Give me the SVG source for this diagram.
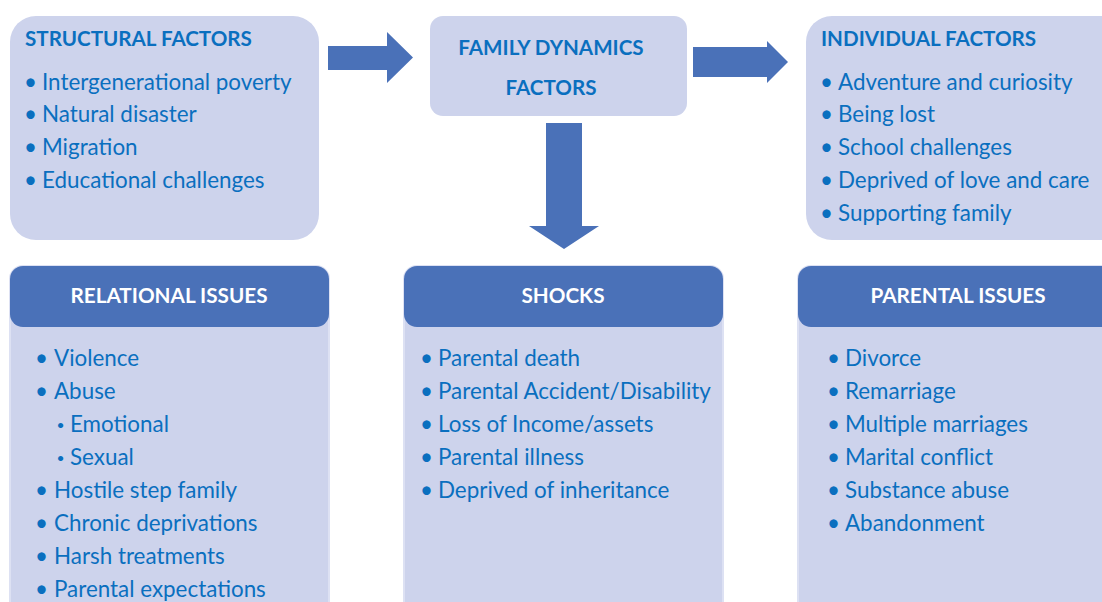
<svg xmlns="http://www.w3.org/2000/svg" width="1102" height="602" viewBox="0 0 1102 602">
  <style>
    .panel { fill: #CDD3EC; }
    .card { fill: #CDD3EC; stroke: #DDE1F3; stroke-width: 2; }
    .head { fill: #4A71B8; }
    .arrow { fill: #4A71B8; }
    .title { font-family: Lato, "Liberation Sans", sans-serif; font-weight: bold; font-size: 20.6px; fill: #0A6FBF; }
    .htitle { font-family: Lato, "Liberation Sans", sans-serif; font-weight: bold; font-size: 20.7px; fill: #FFFFFF; text-anchor: middle; }
    .item { font-family: Lato, "Liberation Sans", sans-serif; font-size: 22.4px; fill: #0A6FBF; }
    .dot { font-family: Lato, "Liberation Sans", sans-serif; font-size: 22.4px; fill: #0A6FBF; text-anchor: middle; }
    .subdot { font-family: Lato, "Liberation Sans", sans-serif; font-size: 14px; fill: #0A6FBF; text-anchor: middle; }
  </style>
  <rect width="1102" height="602" fill="#FFFFFF"/>

  <!-- Top row -->
  <g id="structural-factors">
    <rect class="panel" x="10" y="16" width="309" height="224" rx="26"/>
    <text class="title" x="25" y="46">STRUCTURAL FACTORS</text>
    <text class="dot" x="30.5" y="90">•</text><text class="item" x="42" y="90">Intergenerational poverty</text>
    <text class="dot" x="30.5" y="122">•</text><text class="item" x="42" y="122">Natural disaster</text>
    <text class="dot" x="30.5" y="155">•</text><text class="item" x="42" y="155">Migration</text>
    <text class="dot" x="30.5" y="188">•</text><text class="item" x="42" y="188">Educational challenges</text>
  </g>

  <g id="family-dynamics">
    <rect class="panel" x="430" y="16" width="257" height="100" rx="13"/>
    <text class="title" x="551" y="55" text-anchor="middle">FAMILY DYNAMICS</text>
    <text class="title" x="551" y="95" text-anchor="middle">FACTORS</text>
  </g>

  <g id="individual-factors">
    <rect class="panel" x="806" y="16" width="330" height="224" rx="26"/>
    <text class="title" x="821" y="46">INDIVIDUAL FACTORS</text>
    <text class="dot" x="826.5" y="90">•</text><text class="item" x="838" y="90">Adventure and curiosity</text>
    <text class="dot" x="826.5" y="122">•</text><text class="item" x="838" y="122">Being lost</text>
    <text class="dot" x="826.5" y="155">•</text><text class="item" x="838" y="155">School challenges</text>
    <text class="dot" x="826.5" y="188">•</text><text class="item" x="838" y="188">Deprived of love and care</text>
    <text class="dot" x="826.5" y="221">•</text><text class="item" x="838" y="221">Supporting family</text>
  </g>

  <!-- Block arrows -->
  <g id="connectors">
    <polygon class="arrow" points="328,46 387,46 387,32 413,57.5 387,83 387,70 328,70"/>
    <polygon class="arrow" points="693,47 767,47 767,41 788,62 767,83 767,77 693,77"/>
    <polygon class="arrow" points="546,123 582,123 582,226 599,226 564,249 529,226 546,226"/>
  </g>

  <!-- Bottom row -->
  <g id="relational-issues">
    <rect class="card" x="10" y="266" width="319" height="350" rx="13"/>
    <path class="head" d="M10,279 a13,13 0 0 1 13,-13 h293 a13,13 0 0 1 13,13 v35 a13,13 0 0 1 -13,13 h-293 a13,13 0 0 1 -13,-13 z"/>
    <text class="htitle" x="169" y="303">RELATIONAL ISSUES</text>
    <text class="dot" x="41.5" y="366">•</text><text class="item" x="54" y="366">Violence</text>
    <text class="dot" x="41.5" y="399">•</text><text class="item" x="54" y="399">Abuse</text>
    <text class="subdot" x="60.5" y="430">•</text><text class="item" x="70" y="432">Emotional</text>
    <text class="subdot" x="60.5" y="463">•</text><text class="item" x="70" y="465">Sexual</text>
    <text class="dot" x="41.5" y="498">•</text><text class="item" x="54" y="498">Hostile step family</text>
    <text class="dot" x="41.5" y="531">•</text><text class="item" x="54" y="531">Chronic deprivations</text>
    <text class="dot" x="41.5" y="564">•</text><text class="item" x="54" y="564">Harsh treatments</text>
    <text class="dot" x="41.5" y="597">•</text><text class="item" x="54" y="597">Parental expectations</text>
  </g>

  <g id="shocks">
    <rect class="card" x="404" y="266" width="319" height="350" rx="13"/>
    <path class="head" d="M404,279 a13,13 0 0 1 13,-13 h293 a13,13 0 0 1 13,13 v35 a13,13 0 0 1 -13,13 h-293 a13,13 0 0 1 -13,-13 z"/>
    <text class="htitle" x="563" y="303">SHOCKS</text>
    <text class="dot" x="426.5" y="366">•</text><text class="item" x="438" y="366">Parental death</text>
    <text class="dot" x="426.5" y="399">•</text><text class="item" x="438" y="399">Parental Accident/Disability</text>
    <text class="dot" x="426.5" y="432">•</text><text class="item" x="438" y="432">Loss of Income/assets</text>
    <text class="dot" x="426.5" y="465">•</text><text class="item" x="438" y="465">Parental illness</text>
    <text class="dot" x="426.5" y="498">•</text><text class="item" x="438" y="498">Deprived of inheritance</text>
  </g>

  <g id="parental-issues">
    <rect class="card" x="798" y="266" width="330" height="350" rx="13"/>
    <path class="head" d="M798,279 a13,13 0 0 1 13,-13 h304 a13,13 0 0 1 13,13 v35 a13,13 0 0 1 -13,13 h-304 a13,13 0 0 1 -13,-13 z"/>
    <text class="htitle" x="958" y="303">PARENTAL ISSUES</text>
    <text class="dot" x="833.5" y="366">•</text><text class="item" x="845" y="366">Divorce</text>
    <text class="dot" x="833.5" y="399">•</text><text class="item" x="845" y="399">Remarriage</text>
    <text class="dot" x="833.5" y="432">•</text><text class="item" x="845" y="432">Multiple marriages</text>
    <text class="dot" x="833.5" y="465">•</text><text class="item" x="845" y="465">Marital conflict</text>
    <text class="dot" x="833.5" y="498">•</text><text class="item" x="845" y="498">Substance abuse</text>
    <text class="dot" x="833.5" y="531">•</text><text class="item" x="845" y="531">Abandonment</text>
  </g>
</svg>
